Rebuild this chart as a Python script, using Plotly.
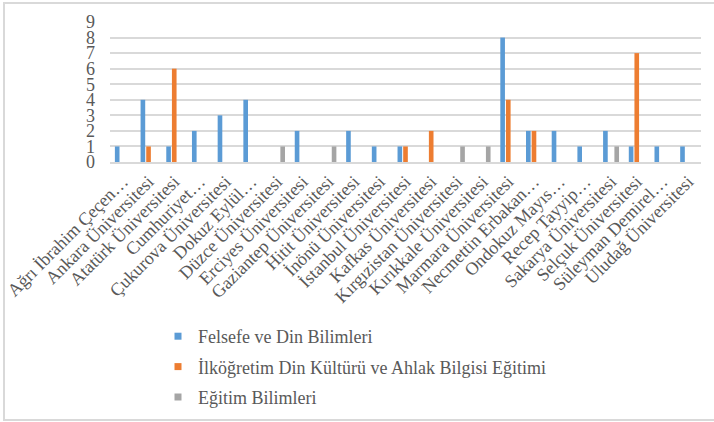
import plotly.graph_objects as go

categories = [
    "Ağrı İbrahim Çeçen…", "Ankara Üniversitesi", "Atatürk Üniversitesi", "Cumhuriyet…",
    "Çukurova Üniversitesi", "Dokuz Eylül…", "Düzce Üniversitesi", "Erciyes Üniversitesi",
    "Gaziantep Üniversitesi", "Hitit Üniversitesi", "İnönü Üniversitesi", "İstanbul Üniversitesi",
    "Kafkas Üniversitesi", "Kırgızistan Üniversitesi", "Kırıkkale Üniversitesi", "Marmara Üniversitesi",
    "Necmettin Erbakan…", "Ondokuz Mayıs…", "Recep Tayyip…", "Sakarya Üniversitesi",
    "Selçuk Üniversitesi", "Süleyman Demirel…", "Uludağ Üniversitesi",
]
felsefe = [1, 4, 1, 2, 3, 4, None, 2, None, 2, 1, 1, None, None, None, 8, 2, 2, 1, 2, 1, 1, 1]
ilkogretim = [None, 1, 6, None, None, None, None, None, None, None, None, 1, 2, None, None, 4, 2, None, None, None, 7, None, None]
egitim = [None, None, None, None, None, None, 1, None, 1, None, None, None, None, 1, 1, None, None, None, None, 1, None, None, None]
series_names = ["Felsefe ve Din Bilimleri", "İlköğretim Din Kültürü ve Ahlak Bilgisi Eğitimi", "Eğitim Bilimleri"]
y_ticks = list(range(0, 10))

colors = ["#5B9BD5", "#ED7D31", "#A5A5A5"]
FONT = "Liberation Serif"
TXT = "#595959"

fig = go.Figure()
for name, vals, col in zip(series_names, [felsefe, ilkogretim, egitim], colors):
    fig.add_trace(go.Bar(x=categories, y=vals, name=name, marker=dict(color=col, line=dict(width=0)),
                         showlegend=False))
# legend entries with small square markers
for i, (name, col) in enumerate(zip(series_names, colors)):
    fig.add_trace(go.Scatter(x=[None], y=[None], mode="markers", name=name, legendgroup=f"g{i}",
                             marker=dict(symbol="square", size=7, color=col)))

L, R, T, B = 110, 13, 22, 260
W, H = 714, 422
pw, ph = W - L - R, H - T - B

def px(x):
    return (x - L) / pw

def py(y):
    return (H - B - y) / ph

fig.update_layout(
    width=W, height=H,
    margin=dict(l=L, r=R, t=T, b=B, autoexpand=False),
    paper_bgcolor="white", plot_bgcolor="white",
    barmode="group", bargap=0.34, bargroupgap=0.18,
    font=dict(family=FONT, color=TXT, size=18),
    legend=dict(x=px(158), y=py(318), xanchor="left", yanchor="top", traceorder="grouped",
                tracegroupgap=4, font=dict(size=18, color=TXT, family=FONT), bgcolor="rgba(0,0,0,0)",
                itemclick=False),
    shapes=[dict(type="rect", xref="paper", yref="paper", x0=px(4), x1=px(717), y0=py(420), y1=py(3),
                 line=dict(color="#D9D9D9", width=2), layer="below")],
)
fig.update_xaxes(tickangle=-45, tickfont=dict(size=18, color=TXT, family=FONT), showline=True,
                 linecolor="#D9D9D9", linewidth=2, ticks="", showgrid=False)
fig.update_yaxes(range=[0, 9], tickvals=y_ticks, showgrid=True, gridcolor="#D9D9D9", gridwidth=2,
                 zeroline=False, tickfont=dict(size=18, color=TXT, family=FONT), ticks="",
                 ticklabelstandoff=14)
fig.write_html("out.html", config={"displayModeBar": False},
               post_script="document.body.style.margin='0';document.body.style.overflow='hidden';")
